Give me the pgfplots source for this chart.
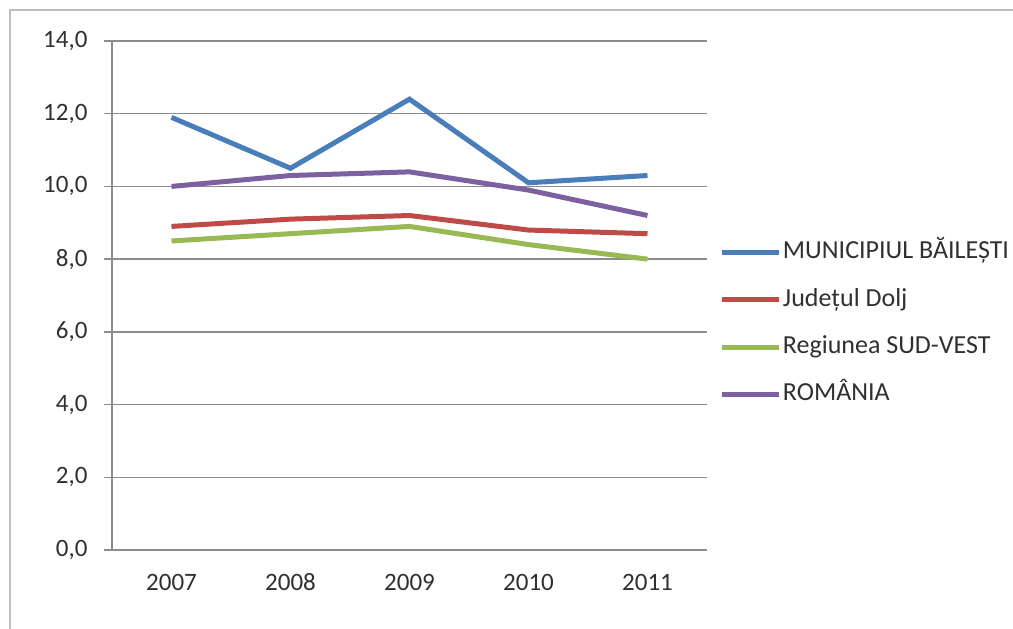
\documentclass[border=0pt]{standalone}
\usepackage{fontspec}
\setmainfont{Carlito}
\usepackage{pgfplots}
\pgfplotsset{compat=1.18}
\definecolor{cBlue}{HTML}{4A7EBB}
\definecolor{cRed}{HTML}{BE4B48}
\definecolor{cGreen}{HTML}{98B954}
\definecolor{cPurple}{HTML}{7D60A0}
\definecolor{axgray}{HTML}{8C8C8C}
\definecolor{txt}{HTML}{303030}
\begin{document}
\begin{tikzpicture}
\path[use as bounding box] (0pt,0pt) rectangle (405.2pt,251.6pt);
\draw[color=black!25, line width=0.8pt] (4pt,0pt) -- (4pt,247.6pt) -- (405.2pt,247.6pt);
\begin{axis}[
  at={(44.8pt,31.6pt)}, anchor=south west,
  scale only axis, width=238pt, height=203.6pt,
  xmin=-0.5, xmax=4.5, ymin=0, ymax=14,
  xtick={0,1,2,3,4},
  xticklabels={2007,2008,2009,2010,2011},
  minor xtick={-0.5,0.5,1.5,2.5,3.5,4.5},
  ytick={0,2,...,14},
  tick align=outside,
  axis line style={color=axgray, line width=0.6pt},
  tick style={color=axgray, line width=0.6pt},
  xtick style={draw=none},
  minor x tick style={color=axgray, line width=0.6pt},
  minor tick length=3.2pt,
  major tick length=3.2pt,
  ymajorgrids, grid style={color=axgray, line width=0.6pt},
  axis x line*=bottom, axis y line*=left,
  separate axis lines,
  every x axis line/.append style={-},
  every y axis line/.append style={-},
  font=\fontsize{10}{12}\selectfont,
  ticklabel style={color=txt, font=\fontsize{10}{12}\selectfont},
  /pgf/number format/.cd, fixed, fixed zerofill, precision=1, use comma, assume math mode=true,
  /pgfplots/.cd,
  yticklabel style={inner sep=0pt, xshift=-6.4pt},
  xticklabel style={inner sep=0pt, anchor=north, text height=7pt, text depth=0pt, yshift=-6pt},
  legend style={at={(axis description cs:1.021,0.445)}, anchor=west, draw=none, fill=none,
    inner sep=0pt, row sep=8.7pt, font=\fontsize{10.4}{12}\selectfont, text=txt,
    nodes={inner sep=0.6pt, text height=7pt, text depth=2pt}},
  legend cell align=left,
  legend image code/.code={\draw[#1, line width=2pt] (0pt,0pt) -- (22.6pt,0pt);},
  every axis plot/.append style={line width=2pt},
  clip=false,
]
\addplot[cBlue] coordinates {(0,11.9) (1,10.5) (2,12.4) (3,10.1) (4,10.3)};
\addlegendentry{MUNICIPIUL BĂILEȘTI}
\addplot[cRed] coordinates {(0,8.9) (1,9.1) (2,9.2) (3,8.8) (4,8.7)};
\addlegendentry{Județul Dolj}
\addplot[cGreen] coordinates {(0,8.5) (1,8.7) (2,8.9) (3,8.4) (4,8.0)};
\addlegendentry{Regiunea SUD-VEST}
\addplot[cPurple] coordinates {(0,10.0) (1,10.3) (2,10.4) (3,9.9) (4,9.2)};
\addlegendentry{ROMÂNIA}
\end{axis}
\end{tikzpicture}
\end{document}
